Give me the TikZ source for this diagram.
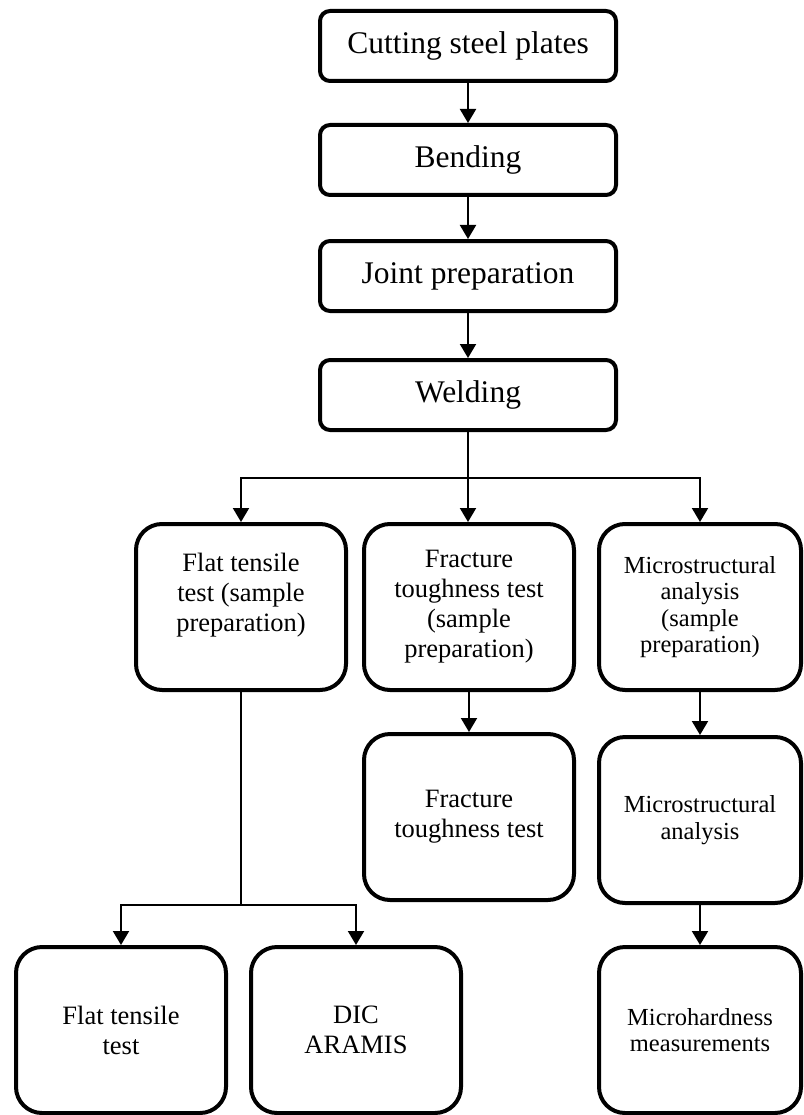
\documentclass[tikz,border=0pt]{standalone}
\usepackage{fontspec}
\setmainfont{Liberation Serif}
\usetikzlibrary{arrows.meta}

\begin{document}
\begin{tikzpicture}[x=1pt, y=-1pt,
		stepbox/.style={draw, line width=4pt, rounded corners=10pt, minimum width=296pt, minimum height=70pt, align=center, font=\fontsize{31.5}{35}\selectfont},
		testbox/.style={draw, line width=4pt, rounded corners=26pt, minimum width=210pt, minimum height=166pt, align=center, font=\fontsize{26.5}{30}\selectfont},
		microbox/.style={testbox, minimum width=202pt, font=\fontsize{24.5}{26.5}\selectfont},
		>={Triangle[length=14pt, width=16pt]}]
			\useasboundingbox (0,0) rectangle (803,1115);

			% main process
			\node[stepbox] (cut) at (468,46) {Cutting steel plates};
			\node[stepbox] (bend) at (468,160) {Bending};
			\node[stepbox] (joint) at (468,276) {Joint preparation};
			\node[stepbox] (weld) at (468,395) {Welding};

			% sample preparation
			\node[testbox] (flatprep) at (241,607) {Flat tensile\\test (sample\\preparation)\\ \mbox{}};
			\node[testbox] (fracprep) at (469,607) {Fracture\\toughness test\\(sample\\preparation)};
			\node[microbox] (microprep) at (700,607) {Microstructural\\analysis\\(sample\\preparation)};

			% tests
			\node[testbox] (frac) at (469,817) {Fracture\\toughness test};
			\node[microbox] (microana) at (700,820) {Microstructural\\analysis};
			\node[microbox] (microhard) at (700,1030) {Microhardness\\measurements};
			\node[testbox] (flat) at (121,1030) {Flat tensile\\test};
			\node[testbox] (dic) at (356,1030) {DIC\\ARAMIS};

			\coordinate (split) at (468,478);
			\coordinate (flatsplit) at (241,905);

			\draw[line width=2pt, ->] (cut) -- (bend);
			\draw[line width=2pt, ->] (bend) -- (joint);
			\draw[line width=2pt, ->] (joint) -- (weld);
			\draw[line width=2pt, ->] (weld) -- (weld.south |- fracprep.north);
			\draw[line width=2pt, ->] (split) -| (flatprep.north);
			\draw[line width=2pt, ->] (split) -| (microprep.north);
			\draw[line width=2pt, ->] (fracprep) -- (frac);
			\draw[line width=2pt, ->] (microprep) -- (microana);
			\draw[line width=2pt, ->] (microana) -- (microhard);
			\draw[line width=2pt] (flatprep.south) -- (flatsplit);
			\draw[line width=2pt, ->] (flatsplit) -| (flat.north);
			\draw[line width=2pt, ->] (flatsplit) -| (dic.north);
		\end{tikzpicture}
\end{document}
